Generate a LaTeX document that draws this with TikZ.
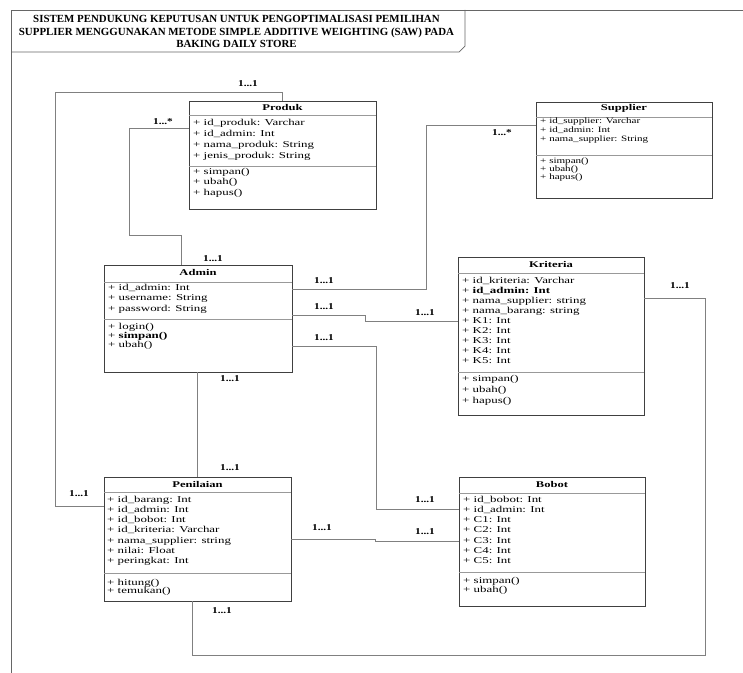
\documentclass[tikz,border=0pt]{standalone}
\usepackage{fontspec}
\setmainfont{Liberation Serif}
\usetikzlibrary{fit}

% texte etire comme dans le diagramme d'origine
\newcommand{\etire}[2][1.43]{\scalebox{#1}[1]{#2}}
\newcommand{\lignes}[2][1.43]{\etire[#1]{\begin{tabular}[t]{@{}l@{}}#2\end{tabular}}}
\newcommand{\card}[1]{\scalebox{1.25}[1]{#1}}

\begin{document}
\begin{tikzpicture}[x=0.3mm, y=-0.3mm,
    cadre/.style={draw=black!60, line width=0.6pt},
    classe/.style={draw=black!75, line width=0.7pt, inner sep=0pt},
    sep/.style={draw=black!40, line width=0.6pt},
    lien/.style={draw=black!50, line width=0.7pt},
    nomclasse/.style={font=\bfseries\fontsize{7.5}{8}\selectfont, anchor=base, inner sep=0pt},
    membres/.style={font=\fontsize{7.7}{#1}\selectfont, anchor=base west, inner sep=0pt},
    membres/.default=8.8,
    mult/.style={font=\bfseries\fontsize{7.7}{8}\selectfont, inner sep=0pt}]
    \fill[white] (0,0) rectangle (743,673);
    \useasboundingbox (0,0) rectangle (743,673);

    % Cadre et titre
    \draw[cadre] (11,673) -- (11,10) -- (743,10);
    \draw[cadre] (11,52) -- (459,52) -- (465,46) -- (465,10);
    \node[font=\bfseries\fontsize{9.3}{10.6}\selectfont, align=center, inner sep=0pt] (judul) at (236.5,31.5)
        {SISTEM PENDUKUNG KEPUTUSAN UNTUK PENGOPTIMALISASI PEMILIHAN\\
         SUPPLIER MENGGUNAKAN METODE SIMPLE ADDITIVE WEIGHTING (SAW) PADA\\
         BAKING DAILY STORE};

    % Classe Produk
    \node[classe, fit={(189,101) (376,209)}] (produk) {};
    \node[nomclasse] (produk-nom) at (282.5,111) {\etire{Produk}};
    \draw[sep] (189,115) -- (376,115);
    \draw[sep] (189,166) -- (376,166);
    \node[membres=9.4] (produk-attr) at (193,125)
        {\lignes{+ id\_produk: Varchar\\+ id\_admin: Int\\+ nama\_produk: String\\+ jenis\_produk: String}};
    \node[membres=9.0] (produk-meth) at (193,174) {\lignes{+ simpan()\\+ ubah()\\+ hapus()}};

    % Classe Supplier
    \node[classe, fit={(536,102) (712,198)}] (supplier) {};
    \node[nomclasse] (supplier-nom) at (624,111) {\etire{Supplier}};
    \draw[sep] (536,117) -- (712,117);
    \draw[sep] (536,155) -- (712,155);
    \node[membres, font=\fontsize{7}{7.3}\selectfont] (supplier-attr) at (540,124)
        {\lignes[1.35]{+ id\_supplier: Varchar\\+ id\_admin: Int\\+ nama\_supplier: String}};
    \node[membres, font=\fontsize{7}{6.9}\selectfont] (supplier-meth) at (540,163)
        {\lignes[1.35]{+ simpan()\\+ ubah()\\+ hapus()}};

    % Classe Admin
    \node[classe, fit={(104,265) (292,372)}] (admin) {};
    \node[nomclasse] (admin-nom) at (198,275) {\etire{Admin}};
    \draw[sep] (104,282) -- (292,282);
    \draw[sep] (104,319) -- (292,319);
    \node[membres=9.0] (admin-attr) at (108,290)
        {\lignes{+ id\_admin: Int\\+ username: String\\+ password: String}};
    \node[membres=8.1] (admin-meth) at (108,329) {\lignes{+ login()\\+ \textbf{simpan()}\\+ ubah()}};

    % Classe Kriteria
    \node[classe, fit={(458,257) (644,415)}] (kriteria) {};
    \node[nomclasse] (kriteria-nom) at (551,267) {\etire{Kriteria}};
    \draw[sep] (458,273) -- (644,273);
    \draw[sep] (458,372) -- (644,372);
    \node[membres=8.6] (kriteria-attr) at (462,283)
        {\lignes{+ id\_kriteria: Varchar\\+ \textbf{id\_admin: Int}\\+ nama\_supplier: string\\+ nama\_barang: string\\
         + K1: Int\\+ K2: Int\\+ K3: Int\\+ K4: Int\\+ K5: Int}};
    \node[membres=9.4] (kriteria-meth) at (462,381) {\lignes{+ simpan()\\+ ubah()\\+ hapus()}};

    % Classe Penilaian
    \node[classe, fit={(104,477) (291,601)}] (penilaian) {};
    \node[nomclasse] (penilaian-nom) at (197.5,487) {\etire{Penilaian}};
    \draw[sep] (104,492) -- (291,492);
    \draw[sep] (104,573) -- (291,573);
    \node[membres=8.8] (penilaian-attr) at (107,502)
        {\lignes{+ id\_barang: Int\\+ id\_admin: Int\\+ id\_bobot: Int\\+ id\_kriteria: Varchar\\
         + nama\_supplier: string\\+ nilai: Float\\+ peringkat: Int}};
    \node[membres=7.3] (penilaian-meth) at (107,585) {\lignes{+ hitung()\\+ temukan()}};

    % Classe Bobot
    \node[classe, fit={(459,477) (645,606)}] (bobot) {};
    \node[nomclasse] (bobot-nom) at (552,487) {\etire{Bobot}};
    \draw[sep] (459,493) -- (645,493);
    \draw[sep] (459,572) -- (645,572);
    \node[membres=8.8] (bobot-attr) at (463,502)
        {\lignes{+ id\_bobot: Int\\+ id\_admin: Int\\+ C1: Int\\+ C2: Int\\+ C3: Int\\+ C4: Int\\+ C5: Int}};
    \node[membres=7.7] (bobot-meth) at (463,583) {\lignes{+ simpan()\\+ ubah()}};

    % Points de passage
    \coordinate (c1) at (55,92);
    \coordinate (c2) at (55,506);
    \coordinate (c4) at (129,128);
    \coordinate (c5) at (181,235);
    \coordinate (c6) at (426,289);
    \coordinate (c7) at (426,125);
    \coordinate (c8) at (365,315);
    \coordinate (c9) at (365,321);
    \coordinate (c10) at (376,346);
    \coordinate (c11) at (376,509);
    \coordinate (c12) at (197,420);
    \coordinate (c13) at (375,539);
    \coordinate (c14) at (375,541);
    \coordinate (c15) at (705,298);
    \coordinate (c16) at (705,655);
    \coordinate (c17) at (192,655);

    % Relations
    \draw[lien] (produk.north) |- (c1) -- (c2) -- (penilaian.west |- c2);
    \draw[lien] (produk.west |- c4) -- (c4) |- (c5) -- (c5 |- admin.north);
    \draw[lien] (admin.east |- c6) -- (c6) -- (c7) -- (supplier.west |- c7);
    \draw[lien] (admin.east |- c8) -- (c8) -- (c9) -- (kriteria.west |- c9);
    \draw[lien] (admin.east |- c10) -| (c11) -- (bobot.west |- c11);
    \draw[lien] (admin.south -| c12) -- (penilaian.north -| c12);
    \draw[lien] (penilaian.east |- c13) -- (c13) -- (c14) -- (bobot.west |- c14);
    \draw[lien] (kriteria.east |- c15) -| (c16) -- (c17) -- (c17 |- penilaian.south);

    % Multiplicites
    \node[mult] (m1) at (248,84) {\card{1...1}};
    \node[mult] (m2) at (79,494) {\card{1...1}};
    \node[mult] (m3) at (163,122) {\card{1...*}};
    \node[mult] (m4) at (213,259) {\card{1...1}};
    \node[mult] (m5) at (324,281) {\card{1...1}};
    \node[mult] (m6) at (502,133) {\card{1...*}};
    \node[mult] (m7) at (324,307) {\card{1...1}};
    \node[mult] (m8) at (425,313) {\card{1...1}};
    \node[mult] (m9) at (324,338) {\card{1...1}};
    \node[mult] (m10) at (425,500) {\card{1...1}};
    \node[mult] (m11) at (230,379) {\card{1...1}};
    \node[mult] (m12) at (230,468) {\card{1...1}};
    \node[mult] (m13) at (322,528) {\card{1...1}};
    \node[mult] (m14) at (425,532) {\card{1...1}};
    \node[mult] (m15) at (680,286) {\card{1...1}};
    \node[mult] (m16) at (222,611) {\card{1...1}};
\end{tikzpicture}
\end{document}
